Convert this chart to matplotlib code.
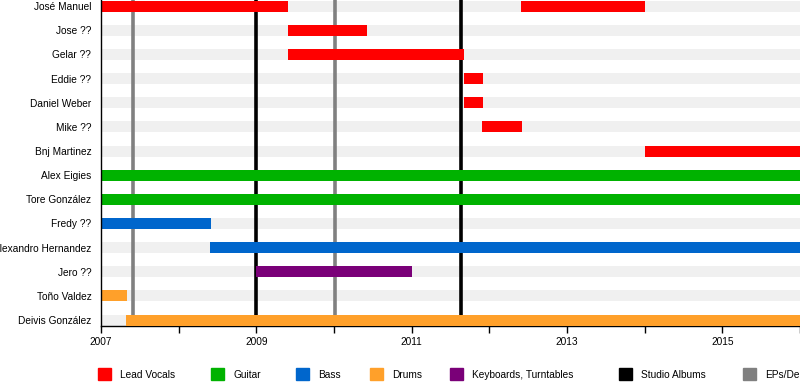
import matplotlib
matplotlib.use("Agg")
import matplotlib.pyplot as plt
from matplotlib.patches import Rectangle

plt.rcParams['font.family'] = ['Liberation Sans', 'DejaVu Sans']

members = ["José Manuel", "Jose ??", "Gelar ??", "Eddie ??", "Daniel Weber", "Mike ??",
           "Bnj Martinez", "Alex Eigies", "Tore González", "Fredy ??", "Alexandro Hernandez",
           "Jero ??", "Toño Valdez", "Deivis González"]

# (member, start, end, role)
END = 2016.5
periods = [
    ("José Manuel", 2007.0, 2009.41, "Lead Vocals"),
    ("José Manuel", 2012.41, 2014.01, "Lead Vocals"),
    ("Jose ??", 2009.41, 2010.42, "Lead Vocals"),
    ("Gelar ??", 2009.41, 2011.68, "Lead Vocals"),
    ("Eddie ??", 2011.67, 2011.92, "Lead Vocals"),
    ("Daniel Weber", 2011.67, 2011.92, "Lead Vocals"),
    ("Mike ??", 2011.91, 2012.42, "Lead Vocals"),
    ("Bnj Martinez", 2014.0, END, "Lead Vocals"),
    ("Alex Eigies", 2007.0, END, "Guitar"),
    ("Tore González", 2007.0, END, "Guitar"),
    ("Fredy ??", 2007.0, 2008.41, "Bass"),
    ("Alexandro Hernandez", 2008.40, END, "Bass"),
    ("Jero ??", 2009.0, 2011.0, "Keyboards, Turntables"),
    ("Toño Valdez", 2007.0, 2007.33, "Drums"),
    ("Deivis González", 2007.32, END, "Drums"),
]

studio_albums = [2009.0, 2011.63]
eps = [2007.41, 2010.01]

role_colors = {
    "Lead Vocals": "#ff0000",
    "Guitar": "#00b200",
    "Bass": "#0066cc",
    "Drums": "#ffa02a",
    "Keyboards, Turntables": "#7a0078",
}
legend_labels = ["Lead Vocals", "Guitar", "Bass", "Drums", "Keyboards, Turntables",
                 "Studio Albums", "EPs/Demos"]
legend_colors = ["#ff0000", "#00b200", "#0066cc", "#ffa02a", "#7a0078", "#000000", "#808080"]

W, H = 800, 385
fig = plt.figure(figsize=(8, 3.85), dpi=100)
ax = fig.add_axes([101 / W, 1 - 325.5 / H, 1 - 101 / W, 325.5 / H])

bar_h = 0.455
xmin, xmax = 2007.0, 2007.0 + 699 / 78
n = len(members)
ypos = {m: i for i, m in enumerate(members)}
fs = 7.3

for i in range(n):
    ax.barh(i, xmax + 1 - xmin, left=xmin, height=bar_h, color="#f0f0f0", zorder=1)
for x in eps:
    ax.axvline(x, color="#808080", lw=2.6, zorder=2)
for x in studio_albums:
    ax.axvline(x, color="#000000", lw=2.6, zorder=2)
for m, s, e, r in periods:
    ax.barh(ypos[m], e - s, left=s, height=bar_h, color=role_colors[r], zorder=3)

ax.set_xlim(xmin, xmax)
ax.set_ylim(n - 1 + bar_h / 2, -0.256)
ax.set_yticks(range(n))
ax.set_yticklabels(members, fontsize=fs)
ax.tick_params(axis="y", length=0, pad=7)
years = list(range(2007, 2017))
ax.set_xticks(years)
ax.set_xticklabels([str(y) if (y - 2007) % 2 == 0 else "" for y in years], fontsize=fs)
ax.tick_params(axis="x", length=5, width=1, direction="out", pad=3)
for s in ["top", "right"]:
    ax.spines[s].set_visible(False)
ax.spines["left"].set_linewidth(1)
ax.spines["bottom"].set_linewidth(1)
ax.spines["left"].set_zorder(4)

# legend
sq_x = [98, 211, 296, 370, 450, 619, 743]
tx_x = [120, 233, 318, 392, 472, 641, 765]
for lab, col, sx, tx in zip(legend_labels, legend_colors, sq_x, tx_x):
    fig.add_artist(Rectangle((sx / W, 1 - 380 / H), 12.5 / W, 12.5 / H,
                             transform=fig.transFigure, color=col))
    fig.text(tx / W, 1 - 375 / H, lab, fontsize=fs, va="center", ha="left")

fig.savefig("out.png", dpi=100)
